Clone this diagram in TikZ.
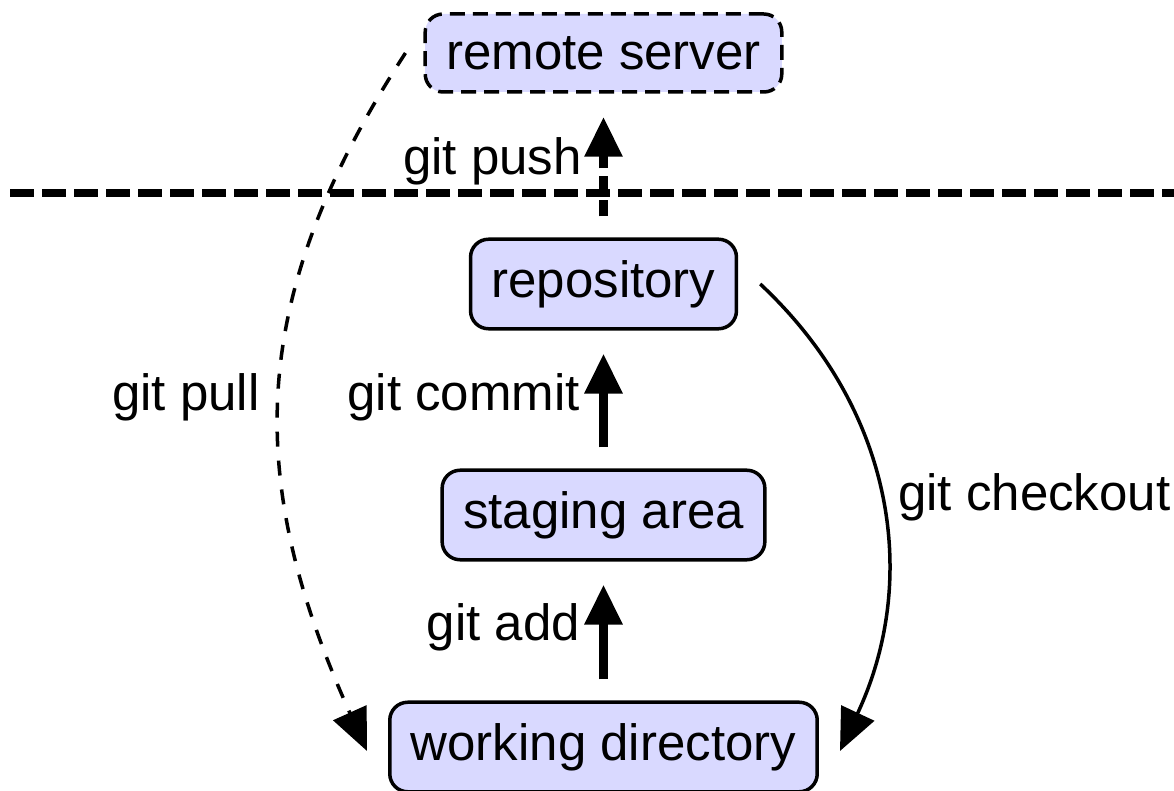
\documentclass[tikz,border=0pt]{standalone}
\usepackage{fontspec}
\setmainfont{Liberation Sans}
\usetikzlibrary{arrows.meta,calc}
\begin{document}
\begin{tikzpicture}[x=1pt,y=-1pt,
  box/.style={draw=black, line width=3.5pt, fill=blue!15, rounded corners=18pt,
    inner xsep=21pt, inner ysep=21pt, font=\fontsize{51}{60}\selectfont},
  dashedbox/.style={box, dash pattern=on 15pt off 8pt, minimum height=78pt},
  lbl/.style={font=\fontsize{51}{60}\selectfont, inner sep=0pt},
  bigarrow/.style={line width=9pt, -{Triangle[length=40pt,width=36pt]},
    shorten >=23pt, shorten <=21pt},
  curvearrow/.style={line width=3.5pt, -{Triangle[length=42pt,width=36pt]}},
  separator/.style={line width=7.5pt, dash pattern=on 24pt off 8pt}
]
\useasboundingbox (0,0) rectangle (1174,791);

\node[dashedbox] (remote) at (603.5,53) {remote server};
\node[box] (repo) at (603.5,284) {repository};
\node[box] (stage) at (603.5,515) {staging area};
\node[box] (work) at (603.5,747) {working directory};

\coordinate (sepL) at (10,193);
\coordinate (sepR) at (1174,193);
\draw[separator] (sepL) -- (sepR);

\draw[bigarrow, dash pattern=on 16pt off 8pt] (repo.north) -- (remote.south);
\draw[bigarrow] (stage.north) -- (repo.south);
\draw[bigarrow] (work.north) -- (stage.south);

\draw[curvearrow, dash pattern=on 15pt off 14pt]
  ($(remote.west)+(-18,0)$) .. controls (245,300) and (245,480) .. ($(work.west)+(-21,4)$);
\draw[curvearrow]
  ($(repo.east)+(22,0)$) .. controls (895,410) and (920,580) .. ($(work.east)+(21,4)$);

\node[lbl, anchor=base east] (lpush) at (582,175) {git push};
\node[lbl, anchor=base east] (lcommit) at (580,410) {git commit};
\node[lbl, anchor=base east] (ladd) at (580,640) {git add};
\node[lbl, anchor=base west] (lpull) at (112,410) {git pull};
\node[lbl, anchor=base west] (lcheckout) at (898,510) {git checkout};
\end{tikzpicture}
\end{document}
